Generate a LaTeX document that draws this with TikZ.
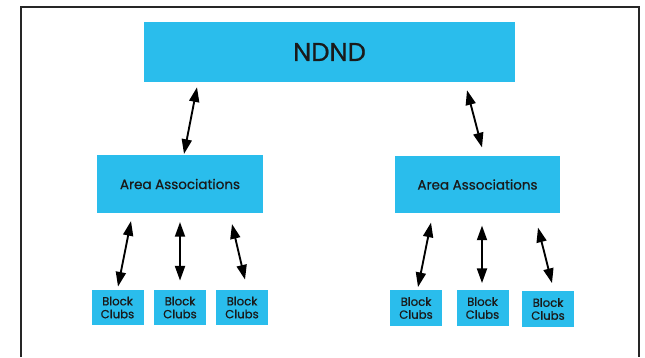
\documentclass[tikz,border=0pt]{standalone}
\usepackage{fontspec}
\setmainfont{Poppins}
\newfontfamily\boxfont{Poppins}[FakeBold=0.8]
\usepackage{tikz}
\usetikzlibrary{arrows.meta,calc}
\definecolor{boxBlue}{HTML}{2ABDEC}
\definecolor{frameGray}{HTML}{262626}
\definecolor{textDark}{HTML}{1A1A1A}

\begin{document}
\begin{tikzpicture}[
    x=0.03cm, y=-0.03cm,
    boxnode/.style={rectangle,fill=boxBlue,inner sep=0pt,text=textDark},
    ndnode/.style={boxnode,minimum width=11.13cm,minimum height=1.8cm,font=\boxfont\fontsize{22}{24}\selectfont},
    areanode/.style={boxnode,minimum width=4.97cm,minimum height=1.73cm,font=\boxfont\fontsize{11.5}{13}\selectfont},
    clubnode/.style={boxnode,minimum width=1.56cm,minimum height=1.06cm,align=center,font=\boxfont\fontsize{10}{11}\selectfont},
    link/.style={{Triangle[length=4.4mm,width=3mm]}-{Triangle[length=4.4mm,width=3mm]},line width=1.6pt,draw=black}
]
    \useasboundingbox (0,0) rectangle (645,357);
    \fill[white] (0,0) rectangle (645,357);
    \draw[frameGray,line width=1.8pt] (21,357) -- (21,7) -- (639,7) -- (639,357);

    % top level
    \node[ndnode] (ndnd) at (329.5,52) {NDND};

    % area associations
    \node[areanode] (aaL) at (180,184) {Area Associations};
    \node[areanode] (aaR) at (477.5,184.5) {Area Associations};

    % block clubs
    \node[clubnode] (bcL1) at (117.5,307.5) {Block\\Clubs};
    \node[clubnode] (bcL2) at (180,307.5) {Block\\Clubs};
    \node[clubnode] (bcL3) at (242,307.5) {Block\\Clubs};
    \node[clubnode] (bcR1) at (416,308) {Block\\Clubs};
    \node[clubnode] (bcR2) at (482.5,308) {Block\\Clubs};
    \node[clubnode] (bcR3) at (548,309) {Block\\Clubs};

    \draw[link] ($(ndnd.south)+(-132.5,5)$) -- ($(aaL.north)+(4,-1)$);
    \draw[link] ($(ndnd.south)+(137.5,8)$) -- ($(aaR.north)+(4.5,-8)$);

    \draw[link] ($(aaL.south)+(-49,8)$) -- ($(bcL1.north)+(0.5,-3)$);
    \draw[link] ($(aaL.south)+(0,9)$) -- ($(bcL2.north)+(0,-9)$);
    \draw[link] ($(aaL.south)+(52,11)$) -- ($(bcL3.north)+(3,-10)$);

    \draw[link] ($(aaR.south)+(-46.5,9)$) -- ($(bcR1.north)+(2,-3)$);
    \draw[link] ($(aaR.south)+(4.5,12)$) -- ($(bcR2.north)+(-0.5,-7)$);
    \draw[link] ($(aaR.south)+(60.5,14)$) -- ($(bcR3.north)+(4,-8)$);
\end{tikzpicture}
\end{document}
